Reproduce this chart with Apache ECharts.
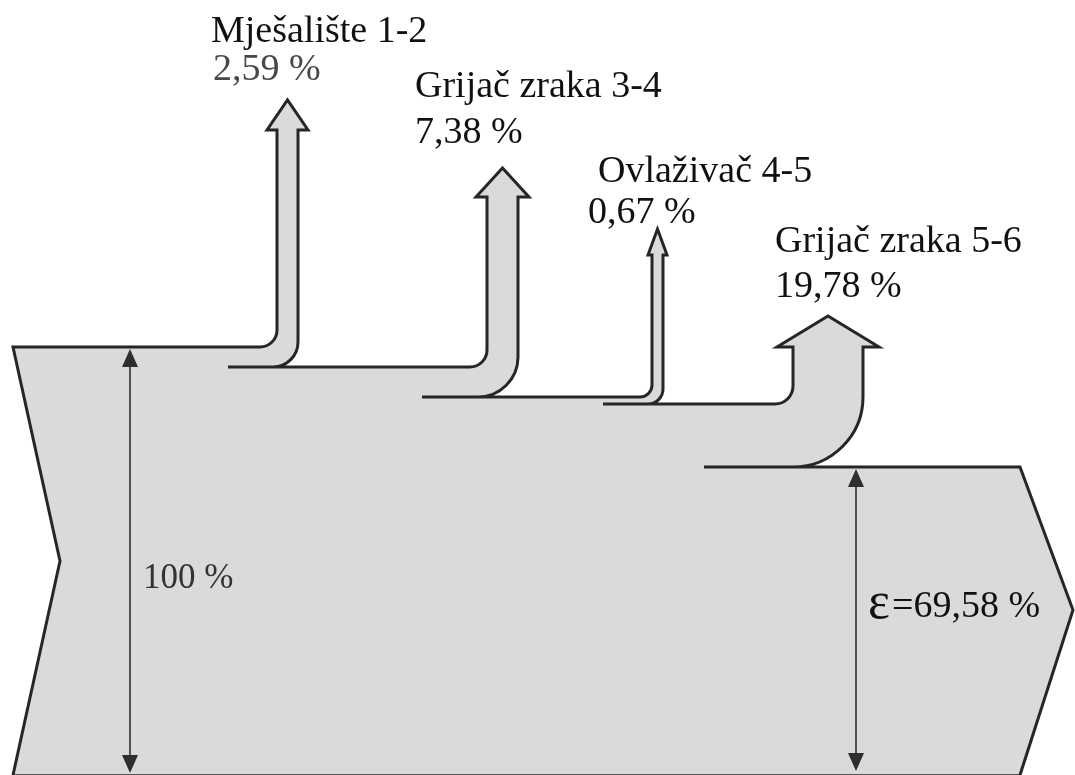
<!DOCTYPE html>
<html>
<head>
<meta charset="utf-8">
<title>Eksergijski tok</title>
<script src="https://cdn.jsdelivr.net/npm/echarts@6/dist/echarts.min.js"></script>
<style>
    html, body {margin: 0; padding: 0; background: #ffffff;}
    #chart {width: 1075px; height: 775px;}
</style>
</head>
<body>
<div id="chart"></div>
<script>
// values (percent of the incoming exergy)
const branchNames = ['Mješalište 1-2', 'Grijač zraka 3-4', 'Ovlaživač 4-5', 'Grijač zraka 5-6'];
const branchShares = [2.59, 7.38, 0.67, 19.78];
const inputShare = 100;
const exergyShare = 69.58;
const exergySymbol = 'ε';

// drawing layout, in axis units (1 unit = 1 px of the 1075 x 775 plot)
const bandLevels = [347, 367, 397, 404, 467];
const branchLayout = [
    {left: 277, right: 298, tip: 100, head: 130, spread: 10, rIn: 17, rOut: 25, stub: 228, name: [211, 42], share: [213, 80]},
    {left: 487, right: 518, tip: 168, head: 197, spread: 11, rIn: 17, rOut: 40, stub: 422, name: [415, 97], share: [415, 143]},
    {left: 652, right: 663, tip: 229, head: 255, spread: 4, rIn: 12, rOut: 15, stub: 603, name: [598, 182], share: [588, 223]},
    {left: 793, right: 863, tip: 316, head: 347, spread: 16, rIn: 18, rOut: 70, stub: 704, name: [775, 252], share: [775, 297]},
];
const inletEdge = {x: 13, notchX: 60, notchY: 561, bottom: 775};
const outletEdge = {x: 1020, tipX: 1073, tipY: 610, bottom: 775};
const inputDim = {x: 130, label: [143, 588]};
const exergyDim = {x: 856, label: [868, 617], valueX: 892};

const FILL = '#d9dad9';
const INK = '#262626';
const FONT_SIZE = 38;
const DIM_SIZE = 35;
const SYMBOL_SIZE = 52;
const fontOf = size => size + 'px "Liberation Serif", "DejaVu Serif", serif';
const K = 0.5523;

const formatShare = value => (Number.isInteger(value) ? String(value) : value.toFixed(2).replace('.', ',')) + ' %';

const makePath = api => {
    const parts = [];
    let cur = [0, 0];
    const P = (x, y) => api.coord([x, y]).map(v => v.toFixed(2)).join(' ');
    const b = {
        move(x, y) { parts.push('M' + P(x, y)); cur = [x, y]; return b; },
        line(x, y) { parts.push('L' + P(x, y)); cur = [x, y]; return b; },
        // rounded bend from the current point to (x, y) around the corner (cx, cy)
        bend(cx, cy, x, y) {
            const c1 = P(cur[0] + K * (cx - cur[0]), cur[1] + K * (cy - cur[1]));
            const c2 = P(x + K * (cx - x), y + K * (cy - y));
            parts.push('C' + c1 + ' ' + c2 + ' ' + P(x, y));
            cur = [x, y];
            return b;
        },
        close() { parts.push('Z'); return b; },
        toString: () => parts.join(' '),
    };
    return b;
};

// one branch: along its top line, up the shaft, round the arrowhead, down and back to its bottom line
const traceBranch = (path, i) => {
    const g = branchLayout[i];
    const top = bandLevels[i];
    const bottom = bandLevels[i + 1];
    const mid = (g.left + g.right) / 2;
    path.line(g.left - g.rIn, top)
        .bend(g.left, top, g.left, top - g.rIn)
        .line(g.left, g.head)
        .line(g.left - g.spread, g.head)
        .line(mid, g.tip)
        .line(g.right + g.spread, g.head)
        .line(g.right, g.head)
        .line(g.right, bottom - g.rOut)
        .bend(g.right, bottom, g.right - g.rOut, bottom);
};

const renderFlow = (params, api) => {
    const fill = makePath(api).move(inletEdge.x, bandLevels[0]);
    branchShares.forEach((v, i) => traceBranch(fill, i));
    fill.line(outletEdge.x, bandLevels[bandLevels.length - 1])
        .line(outletEdge.tipX, outletEdge.tipY)
        .line(outletEdge.x, outletEdge.bottom + 5)
        .line(inletEdge.x, inletEdge.bottom + 5)
        .line(inletEdge.notchX, inletEdge.notchY)
        .close();

    const outline = makePath(api)
        .move(inletEdge.x, inletEdge.bottom)
        .line(inletEdge.notchX, inletEdge.notchY)
        .line(inletEdge.x, bandLevels[0]);
    branchShares.forEach((v, i) => {
        if (i > 0) {
            outline.move(branchLayout[i - 1].stub, bandLevels[i]);
        }
        traceBranch(outline, i);
        outline.line(branchLayout[i].stub, bandLevels[i + 1]);
    });
    outline.move(branchLayout[branchLayout.length - 1].stub, bandLevels[bandLevels.length - 1])
        .line(outletEdge.x, bandLevels[bandLevels.length - 1])
        .line(outletEdge.tipX, outletEdge.tipY)
        .line(outletEdge.x, outletEdge.bottom);

    const base = makePath(api).move(inletEdge.x, inletEdge.bottom).line(outletEdge.x, outletEdge.bottom);

    return {
        type: 'group',
        children: [
            {type: 'path', shape: {pathData: fill.toString()}, style: {fill: FILL, stroke: null}},
            {type: 'path', shape: {pathData: base.toString()}, style: {fill: null, stroke: '#555', lineWidth: 2}},
            {type: 'path', shape: {pathData: outline.toString()}, style: {fill: null, stroke: INK, lineWidth: 3, lineJoin: 'miter'}},
        ],
    };
};

// pos is [left, baseline]
const textAt = (api, pos, text, color, size = FONT_SIZE) => {
    const p = api.coord([pos[0], pos[1] - size * 0.25]);
    return {
        type: 'text',
        x: p[0],
        y: p[1],
        style: {text, font: fontOf(size), fill: color, align: 'left', verticalAlign: 'middle'},
    };
};

const renderBranchLabel = (params, api) => {
    const i = api.value(0);
    const g = branchLayout[i];
    return {
        type: 'group',
        children: [
            textAt(api, g.name, branchNames[i], '#111'),
            textAt(api, g.share, formatShare(api.value(1)), i === 0 ? '#484848' : '#111'),
        ],
    };
};

// double headed dimension arrow between two levels of the band
const renderDimension = (params, api) => {
    const isInput = api.value(0) === 0;
    const dim = isInput ? inputDim : exergyDim;
    const top = isInput ? bandLevels[0] : bandLevels[bandLevels.length - 1];
    const bottom = isInput ? inletEdge.bottom : outletEdge.bottom - 2;
    const line = makePath(api).move(dim.x, top + 10).line(dim.x, bottom - 10);
    const heads = makePath(api)
        .move(dim.x, top + 2).line(dim.x - 8, top + 20).line(dim.x + 8, top + 20).close()
        .move(dim.x, bottom - 2).line(dim.x - 8, bottom - 20).line(dim.x + 8, bottom - 20).close();
    const children = [
        {type: 'path', shape: {pathData: line.toString()}, style: {fill: null, stroke: '#2e2e2e', lineWidth: 1.6}},
        {type: 'path', shape: {pathData: heads.toString()}, style: {fill: '#2e2e2e', stroke: null}},
    ];
    if (isInput) {
        children.push(textAt(api, dim.label, formatShare(api.value(1)), '#333', DIM_SIZE));
    } else {
        children.push(textAt(api, dim.label, exergySymbol, '#111', SYMBOL_SIZE));
        children.push(textAt(api, [dim.valueX, dim.label[1]], '=' + formatShare(api.value(1)), '#111'));
    }
    return {type: 'group', children};
};

const chart = echarts.init(document.getElementById('chart'), null, {renderer: 'canvas'});
chart.setOption({
    animation: false,
    backgroundColor: '#ffffff',
    grid: {left: 0, right: 0, top: 0, bottom: 0},
    xAxis: {type: 'value', min: 0, max: 1075, show: false},
    yAxis: {type: 'value', min: 0, max: 775, inverse: true, show: false},
    series: [
        {
            name: 'Tok eksergije',
            type: 'custom',
            clip: false,
            silent: true,
            renderItem: renderFlow,
            data: [[inputShare, exergyShare]],
        },
        {
            name: 'Gubici',
            type: 'custom',
            clip: false,
            silent: true,
            renderItem: renderDimension,
            data: [[0, inputShare], [1, exergyShare]],
        },
        {
            name: 'Oznake',
            type: 'custom',
            clip: false,
            silent: true,
            renderItem: renderBranchLabel,
            data: branchShares.map((v, i) => [i, v]),
        },
    ],
});
window.addEventListener('resize', () => chart.resize());
</script>
</body>
</html>
